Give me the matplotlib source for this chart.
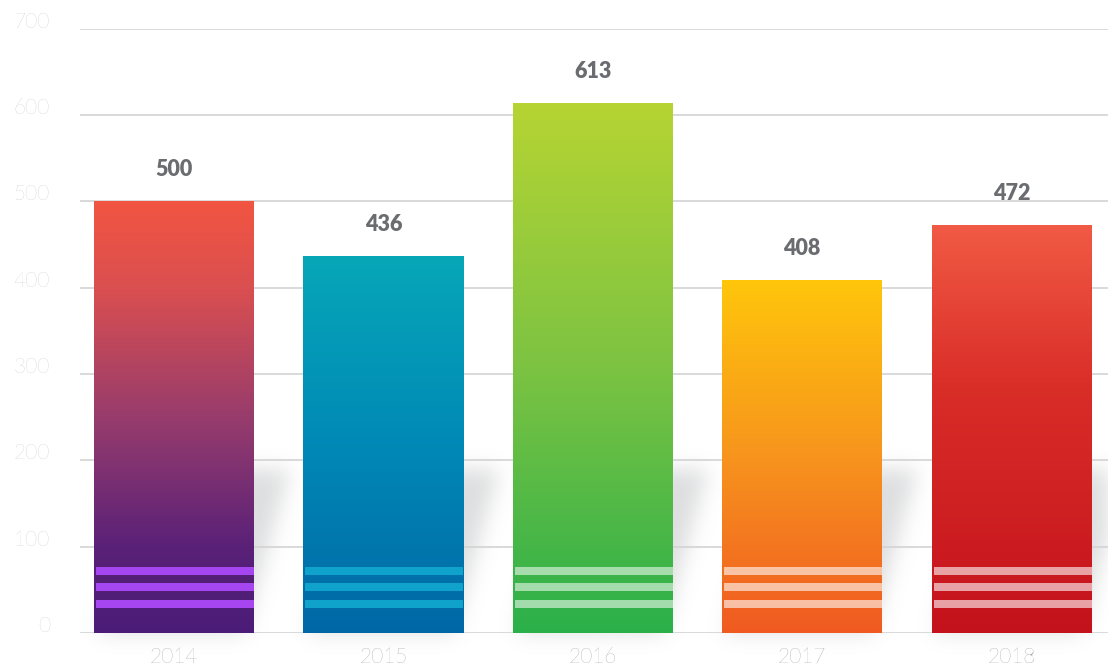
import numpy as np
import matplotlib.pyplot as plt
from matplotlib.colors import LinearSegmentedColormap, to_rgb
from matplotlib.patches import Rectangle
from matplotlib import transforms

# Data
years = ["2014", "2015", "2016", "2017", "2018"]
values = [500, 436, 613, 408, 472]
y_ticks = [0, 100, 200, 300, 400, 500, 600, 700]

# Bar gradients, bottom -> top
gradients = [
    [(0.0, "#4B1C77"), (0.2, "#5A2178"), (0.5, "#983C6C"), (0.8, "#DA4F50"), (1.0, "#F25541")],
    [(0.0, "#0067A6"), (0.5, "#0089B6"), (1.0, "#07A7B8")],
    [(0.0, "#2BB04A"), (0.5, "#7CC342"), (1.0, "#B6D433")],
    [(0.0, "#F05A22"), (0.5, "#F7941D"), (1.0, "#FFC60B")],
    [(0.0, "#C4121C"), (0.6, "#D92D28"), (1.0, "#F15A44")],
]
stripe_colors = ["#A646F0", "#0FA2CA", "#FFFFFF", "#FFFFFF", "#FFFFFF"]
stripe_alpha = [1.0, 1.0, 0.55, 0.6, 0.6]

W, H, DPI = 1108, 667, 100
fig = plt.figure(figsize=(W / DPI, H / DPI), dpi=DPI)
ax = fig.add_axes([80 / W, 34 / H, 1028 / W, (633 - 28.7) / H])

step = 209.4
xlim = (-94 / step, (1028 - 94) / step)
bar_w = 160 / step
ax.set_xlim(*xlim)
ax.set_ylim(0, 700)
x = np.arange(len(years))

# soft slanted shadow behind each bar
units_per_px = 700 / (633 - 28.7)
nx = 1028
ny = 320
sy0 = -40
sy1 = sy0 + ny * units_per_px
gx = np.linspace(xlim[0], xlim[1], nx)
gy = np.linspace(sy0, sy1, ny)
XX, YY = np.meshgrid(gx, gy)
mask = np.zeros_like(XX)
shadow_top = 190
slope = 0.22 / shadow_top
for xi in x:
    left = xi - bar_w / 2 + 0.02 + slope * YY
    right = xi + bar_w / 2 - 0.05 + slope * YY
    inside = (XX >= left) & (XX <= right) & (YY >= 0) & (YY <= shadow_top)
    mask[inside] = 1.0


def blur(a, sigma):
    r = int(3 * sigma)
    k = np.exp(-0.5 * (np.arange(-r, r + 1) / sigma) ** 2)
    k /= k.sum()
    a = np.apply_along_axis(lambda v: np.convolve(v, k, mode="same"), 0, a)
    a = np.apply_along_axis(lambda v: np.convolve(v, k, mode="same"), 1, a)
    return a


mask = blur(mask, 10)
shadow = np.zeros((ny, nx, 4))
shadow[..., :3] = to_rgb("#9a9ca0")
shadow[..., 3] = 0.33 * mask
ax.imshow(shadow, extent=[xlim[0], xlim[1], sy0, sy1], origin="lower",
          aspect="auto", zorder=0, clip_on=False, interpolation="bilinear")

# gridlines
for t in y_ticks:
    ax.axhline(t, color="#d3d3d3", lw=1.2, zorder=1)

# gradient bars with stripes
for i, (xi, v) in enumerate(zip(x, values)):
    cmap = LinearSegmentedColormap.from_list(f"g{i}", gradients[i])
    grad = np.linspace(0, 1, 256).reshape(-1, 1)
    ax.imshow(grad, cmap=cmap, extent=[xi - bar_w / 2, xi + bar_w / 2, 0, v],
              origin="lower", aspect="auto", zorder=2)
    for sb in (29.3, 48.3, 66.9):
        ax.add_patch(Rectangle((xi - bar_w / 2 + 0.01, sb), bar_w - 0.01, 9.3,
                               facecolor=stripe_colors[i], alpha=stripe_alpha[i],
                               edgecolor="none", zorder=3))
    ax.annotate(str(v), (xi, v), xytext=(0, 23), textcoords="offset points",
                ha="center", va="center", fontsize=15.5, fontweight="heavy",
                family="Lato", color="#6b6c70", zorder=4)

ax.set_xlim(*xlim)
ax.set_ylim(0, 700)

# axis labels
ax.set_xticks(x)
ax.set_xticklabels(years, fontsize=15, family="Lato", fontweight="light",
                   color="#7e7e7e")
ax.tick_params(axis="x", length=0, pad=10)
ax.set_yticks([])

ytrans = transforms.blended_transform_factory(ax.transAxes, ax.transData) + \
    transforms.ScaledTranslation(-30 / DPI, 7 / DPI, fig.dpi_scale_trans)
for t in y_ticks:
    ax.text(0, t, str(t), transform=ytrans, ha="right", va="center",
            fontsize=15, family="Lato", fontweight="light", color="#b9b9b9")

for s in ax.spines.values():
    s.set_visible(False)

fig.savefig("out.png", dpi=DPI, facecolor="white")
